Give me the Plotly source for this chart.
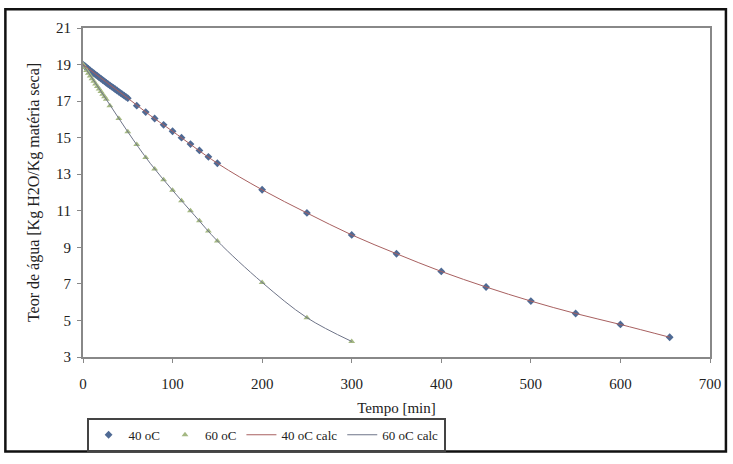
import plotly.graph_objects as go

# 40 oC experimental data
t40 = [0, 2, 4, 6, 8, 10, 12, 14, 16, 18, 20, 22, 24, 26, 28, 30, 32, 34, 36, 38, 40, 42, 44, 46, 48, 50,
       60, 70, 80, 90, 100, 110, 120, 130, 140, 150,
       200, 250, 300, 350, 400, 450, 500, 550, 600, 655]
y40 = [19.00, 18.92, 18.84, 18.76, 18.68, 18.60, 18.53, 18.45, 18.38, 18.30, 18.23, 18.15, 18.08, 18.00,
       17.93, 17.86, 17.79, 17.72, 17.65, 17.58, 17.51, 17.44, 17.37, 17.30, 17.23, 17.16,
       16.75, 16.40, 16.05, 15.70, 15.35, 15.00, 14.65, 14.30, 13.95, 13.60,
       12.15, 10.88, 9.68, 8.65, 7.68, 6.83, 6.06, 5.38, 4.78, 4.08]

# 60 oC experimental data
t60 = [0, 2, 4, 6, 8, 10, 12, 14, 16, 18, 20, 22, 24, 26, 30, 40, 50, 60, 70, 80, 90, 100,
       110, 120, 130, 140, 150, 200, 250, 300]
y60 = [19.00, 18.84, 18.68, 18.53, 18.38, 18.23, 18.08, 17.94, 17.80, 17.66, 17.52, 17.38, 17.24, 17.10,
       16.75, 16.05, 15.32, 14.62, 13.92, 13.28, 12.70, 12.12,
       11.55, 11.00, 10.45, 9.90, 9.35, 7.08, 5.15, 3.85]

# calculated curves
t40c = [0, 25, 50, 75, 100, 150, 200, 250, 300, 350, 400, 450, 500, 550, 600, 655]
y40c = [19.00, 18.08, 17.16, 16.22, 15.35, 13.60, 12.15, 10.88, 9.68, 8.65, 7.68, 6.83, 6.06, 5.38, 4.78, 4.08]
t60c = [0, 25, 50, 75, 100, 125, 150, 200, 250, 300]
y60c = [19.00, 17.17, 15.32, 13.60, 12.12, 10.72, 9.35, 7.08, 5.15, 3.85]

x_ticks = [0, 100, 200, 300, 400, 500, 600, 700]
y_ticks = [3, 5, 7, 9, 11, 13, 15, 17, 19, 21]

serif = "Liberation Serif, Times New Roman, serif"

fig = go.Figure()
fig.add_trace(go.Scatter(x=t40, y=y40, mode="markers", name="40 oC",
                         marker=dict(symbol="diamond", size=6, color="#4F6A94")))
fig.add_trace(go.Scatter(x=t60, y=y60, mode="markers", name="60 oC",
                         marker=dict(symbol="triangle-up", size=6, color="#A4B882")))
fig.add_trace(go.Scatter(x=t40c, y=y40c, mode="lines", name="40 oC calc",
                         line=dict(color="#A86060", width=1, shape="spline")))
fig.add_trace(go.Scatter(x=t60c, y=y60c, mode="lines", name="60 oC calc",
                         line=dict(color="#6E7488", width=1, shape="spline")))

axis_common = dict(showline=True, linecolor="#888888", linewidth=2, mirror=True,
                   ticks="outside", ticklen=4, tickcolor="#888888", showgrid=False, zeroline=False,
                   tickfont=dict(family=serif, size=15, color="#222222"))

fig.update_layout(
    width=733, height=464,
    margin=dict(l=83, r=20, t=28, b=102),
    paper_bgcolor="white", plot_bgcolor="white",
    font=dict(family=serif, color="#222222"),
    xaxis=dict(range=[0, 700], tickvals=x_ticks, ticklabelstandoff=8,
               title=dict(text="Tempo [min]", font=dict(family=serif, size=15), standoff=11),
               **axis_common),
    yaxis=dict(range=[3, 21], tickvals=y_ticks, ticklabelstandoff=3,
               title=dict(text="Teor de água [Kg H2O/Kg matéria seca]", font=dict(family=serif, size=16), standoff=12),
               **axis_common),
    legend=dict(orientation="h", x=0.292, y=-0.2365, xanchor="center", yanchor="middle",
                bordercolor="#444444", borderwidth=2, font=dict(family=serif, size=13),
                itemwidth=30, tracegroupgap=0),
    showlegend=True,
)

fig.add_shape(type="rect", xref="paper", yref="paper",
              x0=-0.1238, x1=1.0254, y0=-0.2874, y1=1.0569,
              line=dict(color="#111111", width=2.5))

fig.write_html("out.html", config={"displayModeBar": False},
               post_script="document.body.style.margin='0';")
